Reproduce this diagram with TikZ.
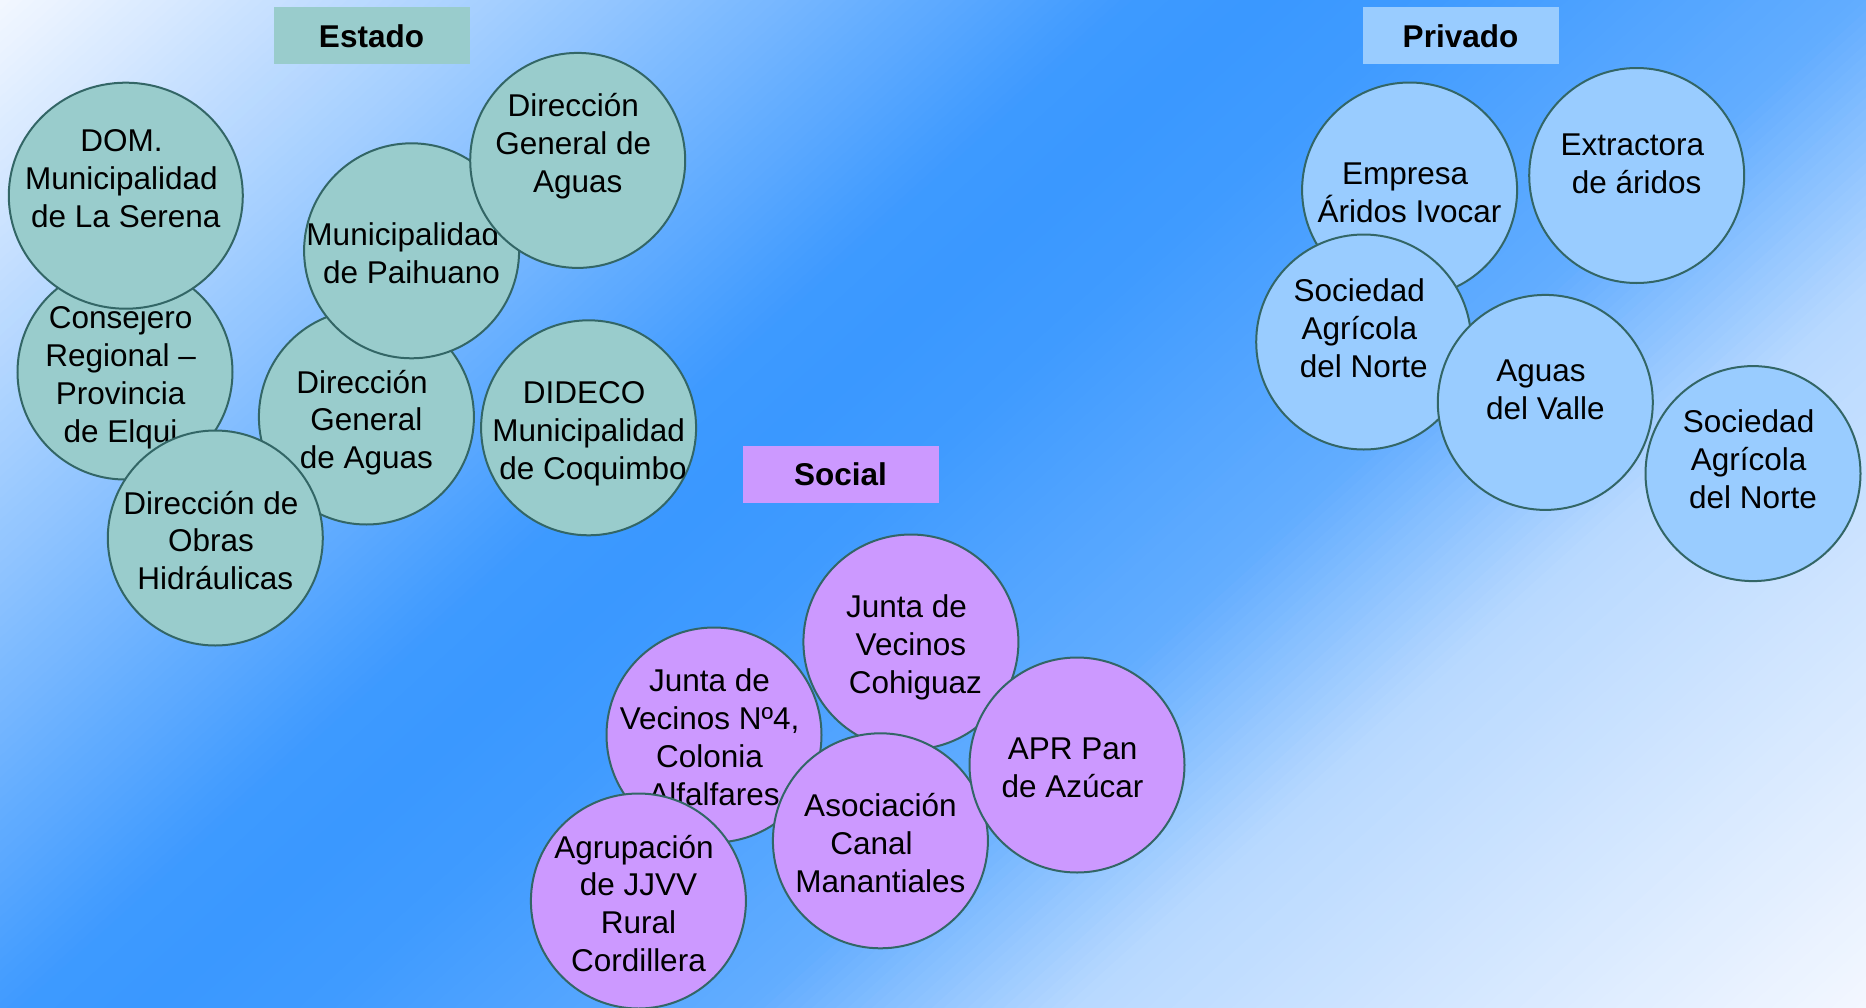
\documentclass[tikz,border=0pt]{standalone}
\usepackage{fontspec}
\setmainfont{Liberation Sans}
\usetikzlibrary{shapes.geometric}
\definecolor{bgblue}{HTML}{3A98FF}
\definecolor{bglight}{HTML}{F3F7FF}
\definecolor{estado}{HTML}{99CCCC}
\definecolor{social}{HTML}{CC99FF}
\definecolor{privado}{HTML}{99CCFF}
\definecolor{edgecol}{HTML}{336666}
\newcommand\trsp{\kern8.8pt}
\newcommand\ldsp{\kern8.8pt}
\begin{document}
\begin{tikzpicture}[x=1pt,y=-1pt,
  circ/.style={circle, draw=edgecol, line width=2pt, minimum size=215pt, inner sep=0pt},
  ell/.style={ellipse, draw=edgecol, line width=2pt, minimum width=234pt, minimum height=226pt, inner sep=0pt},
  txt/.style={align=center, font=\fontsize{31.5}{37.9}\selectfont, inner sep=0pt, text=black,
    execute at begin node={\strut}, execute at end node={\strut}},
  lbl/.style={minimum width=196pt, minimum height=57pt, inner sep=0pt, font=\fontsize{31.5}{38.5}\selectfont\bfseries},
]
\useasboundingbox (0,0) rectangle (1866,1007);
% background gradient
\begin{scope}
\clip (0,0) rectangle (1866,1007);
\foreach \ta/\fa/\tb/\fb in {0/0/386/49, 386/49/760/98, 760/98/850/100, 850/100/964/97, 964/97/1252/78, 1252/78/1469/32, 1469/32/2000/0} {
  \pgfmathtruncatemacro\nn{max(1,round((\tb-\ta)/8))}
  \pgfmathsetmacro\dt{(\tb-\ta)/\nn}
  \pgfmathsetmacro\df{(\fb-\fa)/\nn}
  \foreach \k in {1,...,\nn} {
    \pgfmathsetmacro\tp{\ta+\dt*(\k-1)}
    \pgfmathsetmacro\tq{\tp+\dt+1}
    \pgfmathsetmacro\ff{\fa+\df*(\k-0.5)}
    \fill[bgblue!\ff!bglight, rotate=-47.86] (\tp,-2600) rectangle (\tq,2600);
  }
}
\end{scope}

% labels
\node[lbl, fill=estado] (lEstado) at (371.5,35.8) {Estado};
\node[lbl, fill=privado] (lPrivado) at (1460.5,35.8) {Privado};
\node[lbl, fill=social] (lSocial) at (840.5,474) {Social};

% Estado
\node[circ, fill=estado] (cCons) at (125,372) {};
\node[txt] (tCons) at ([yshift=-8pt]cCons) {Consejero\trsp\\Regional –\trsp\\Provincia\trsp\\de Elqui\trsp};
\node[ell, fill=estado] (cDOM) at (125.8,195.7) {};
\node[txt] (tDOM) at ([yshift=11.3pt]cDOM) {DOM.\trsp\\Municipalidad\trsp\\de La Serena};
\node[circ, fill=estado] (cDGAm) at (366.4,417) {};
\node[txt] (tDGAm) at ([yshift=-8pt]cDGAm) {Dirección\trsp\\General\\de Aguas};
\node[circ, fill=estado] (cDOH) at (215.3,538) {};
\node[txt] (tDOH) at ([yshift=-8pt]cDOH) {Dirección de\trsp\\Obras\trsp\\Hidráulicas};
\node[circ, fill=estado] (cPai) at (411.6,250.8) {};
\node[txt] (tPai) at ([yshift=-8pt]cPai) {Municipalidad\trsp\trsp\\de Paihuano};
\node[circ, fill=estado] (cDGAt) at (577.7,160.4) {};
\node[txt] (tDGAt) at ([yshift=11.8pt]cDGAt) {Dirección\trsp\\General de\trsp\\Aguas};
\node[circ, fill=estado] (cDID) at (588.6,427.8) {};
\node[txt] (tDID) at ([yshift=-8pt]cDID) {DIDECO\trsp\\Municipalidad\\\ldsp de Coquimbo};

% Social
\node[circ, fill=social] (cCoh) at (910.9,642) {};
\node[txt] (tCoh) at ([yshift=-8pt]cCoh) {Junta de\trsp\\Vecinos\\\ldsp Cohiguaz};
\node[circ, fill=social] (cN4) at (714,735) {};
\node[txt] (tN4) at ([yshift=-8pt]cN4) {Junta de\trsp\\Vecinos Nº4,\trsp\\Colonia\trsp\\Alfalfares};
\node[circ, fill=social] (cAso) at (880.4,840.8) {};
\node[txt] (tAso) at ([yshift=-8pt]cAso) {Asociación\\Canal\trsp\trsp\\Manantiales};
\node[circ, fill=social] (cAPR) at (1077,765) {};
\node[txt] (tAPR) at ([yshift=-8pt]cAPR) {APR Pan\trsp\\de Azúcar\trsp};
\node[circ, fill=social] (cAgr) at (638.4,901) {};
\node[txt] (tAgr) at ([yshift=-8pt]cAgr) {Agrupación\trsp\\de JJVV\\Rural\\Cordillera};

% Privado
\node[circ, fill=privado] (cEmp) at (1409.6,190) {};
\node[txt] (tEmp) at ([yshift=-8.5pt]cEmp) {Empresa\trsp\\Áridos Ivocar};
\node[circ, fill=privado] (cSoc1) at (1363.7,342) {};
\node[txt] (tSoc1) at ([yshift=8pt]cSoc1) {Sociedad\trsp\\Agrícola\trsp\\del Norte};
\node[circ, fill=privado] (cAgu) at (1545.3,402.4) {};
\node[txt] (tAgu) at ([yshift=6.8pt]cAgu) {Aguas\trsp\\del Valle};
\node[circ, fill=privado] (cExt) at (1636.7,175.5) {};
\node[txt] (tExt) at ([yshift=6.5pt]cExt) {Extractora\trsp\\de áridos};
\node[circ, fill=privado] (cSoc2) at (1753,473.6) {};
\node[txt] (tSoc2) at ([yshift=8.6pt]cSoc2) {Sociedad\trsp\\Agrícola\trsp\\del Norte};
\end{tikzpicture}
\end{document}
